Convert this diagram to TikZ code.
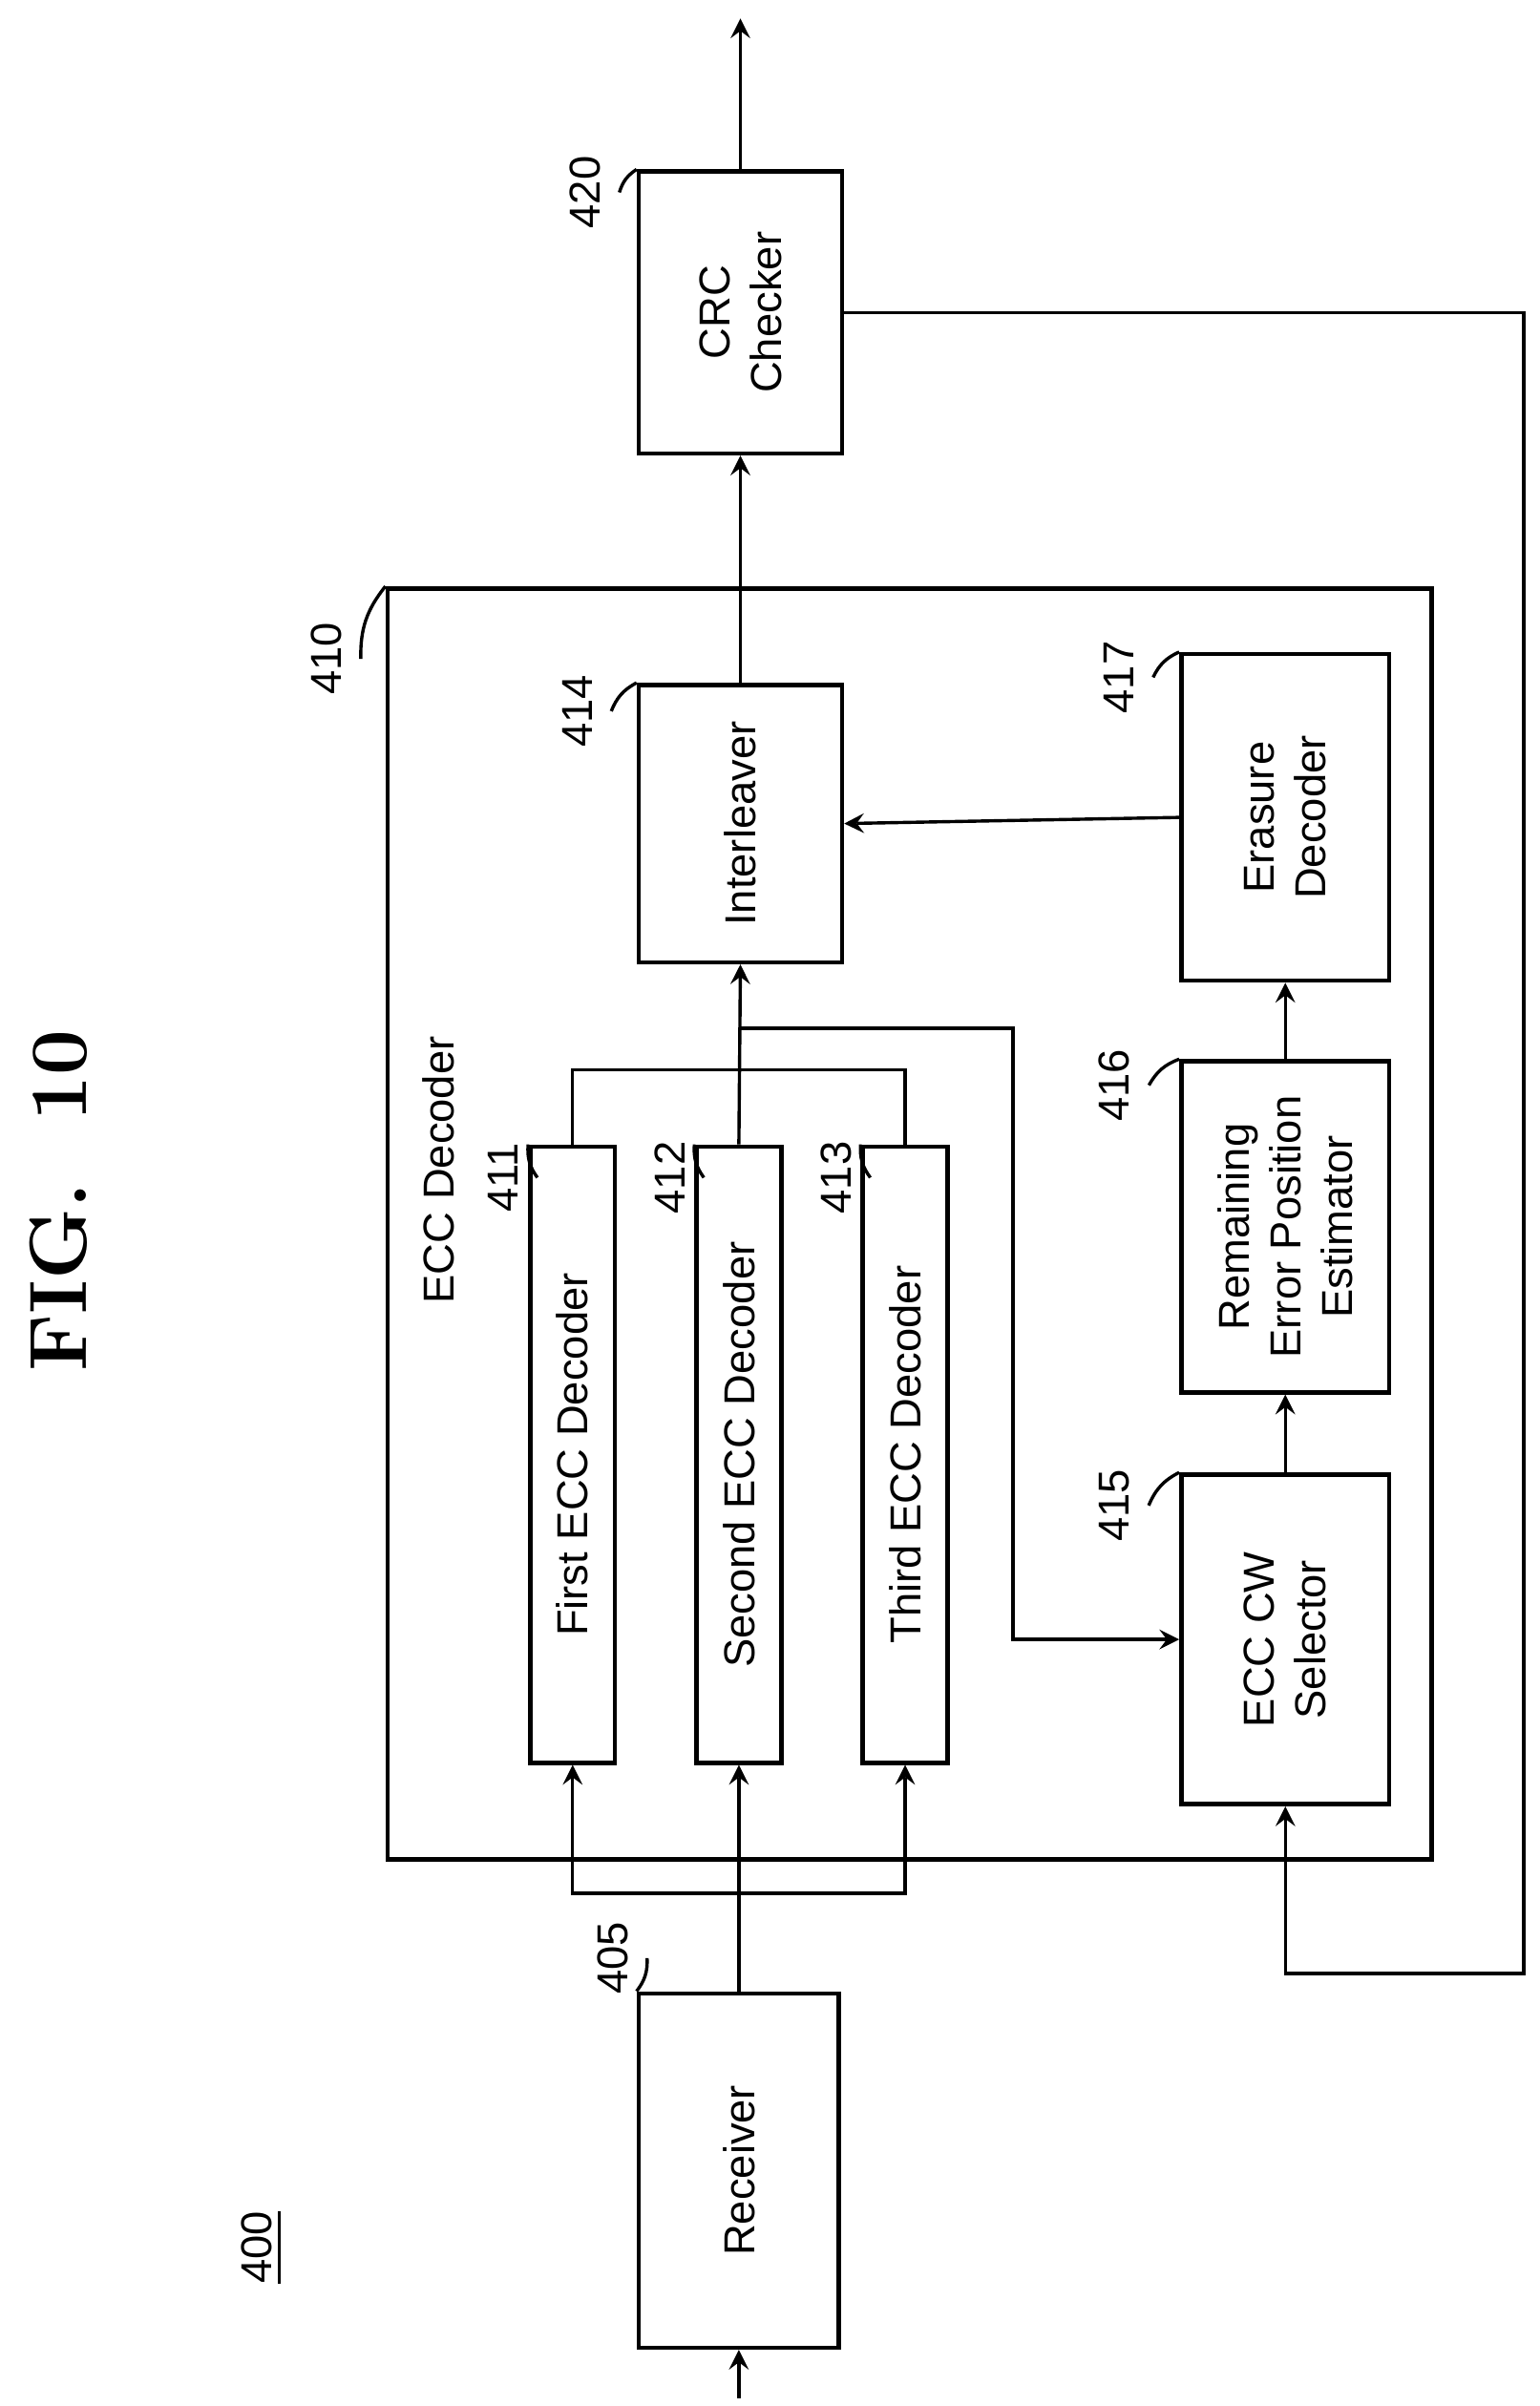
\documentclass[tikz,border=0pt]{standalone}
\usepackage{fontspec}
\setsansfont{Liberation Sans}
\usetikzlibrary{arrows}
\tikzstyle{block} = [rectangle, rotate=90, draw=black, line width=0.8pt, text centered, align=center, font=\sffamily\fontsize{8}{9.5}\selectfont]
\tikzstyle{tag} = [rotate=90, font=\sffamily\fontsize{8}{9.5}\selectfont]
\tikzstyle{arrow} = [line width=0.6pt,->,>=stealth]
\tikzstyle{wire} = [line width=0.6pt]
\begin{document}
\begin{tikzpicture}[x=0.01cm, y=-0.01cm]
        \useasboundingbox (0,0) rectangle (1000,1563);
        \node (title) [rotate=90, font=\bfseries\fontsize{15}{18}\selectfont] at (38,780) {FIG.~~10};
        \node (fig) [tag] at (170,1460) {\underline{400}};
        \node (dec) [block, minimum width=8.25cm, minimum height=6.78cm] at (591,795) {};
        \node (decname) [tag] at (285,760) {ECC Decoder};
        \node (rcv) [block, minimum width=2.3cm, minimum height=1.3cm] at (480,1410) {Receiver};
        \node (d1) [block, minimum width=4cm, minimum height=0.55cm] at (372,945) {First ECC Decoder};
        \node (d2) [block, minimum width=4cm, minimum height=0.55cm] at (480,945) {Second ECC Decoder};
        \node (d3) [block, minimum width=4cm, minimum height=0.55cm] at (588,945) {Third ECC Decoder};
        \node (il) [block, minimum width=1.8cm, minimum height=1.32cm] at (481,535) {Interleaver};
        \node (crc) [block, minimum width=1.83cm, minimum height=1.32cm] at (481,203) {CRC\\Checker};
        \node (er) [block, minimum width=2.12cm, minimum height=1.35cm] at (835,531) {Erasure\\Decoder};
        \node (est) [block, minimum width=2.15cm, minimum height=1.35cm] at (835,797) {Remaining\\Error Position\\Estimator};
        \node (sel) [block, minimum width=2.14cm, minimum height=1.35cm] at (835,1065) {ECC CW\\Selector};
        % reference numerals
        \node (n405) [tag] at (398,1272) {405};
        \node (n410) [tag] at (212,428) {410};
        \node (n411) [tag] at (327,765) {411};
        \node (n412) [tag] at (435,765) {412};
        \node (n413) [tag] at (543,765) {413};
        \node (n414) [tag] at (375,462) {414};
        \node (n415) [tag] at (724,978) {415};
        \node (n416) [tag] at (724,705) {416};
        \node (n417) [tag] at (727,440) {417};
        \node (n420) [tag] at (380,125) {420};
        \draw [wire] (n405.south) to[bend left=20] (rcv.north east);
        \draw [wire] (n410.south) to[bend left=20] (dec.north east);
        \draw [wire] (n411.south) to[bend left=20] (d1.north east);
        \draw [wire] (n412.south) to[bend left=20] (d2.north east);
        \draw [wire] (n413.south) to[bend left=20] (d3.north east);
        \draw [wire] (n414.south) to[bend left=20] (il.north east);
        \draw [wire] (n415.south) to[bend left=20] (sel.north east);
        \draw [wire] (n416.south) to[bend left=20] (est.north east);
        \draw [wire] (n417.south) to[bend left=20] (er.north east);
        \draw [wire] (n420.south) to[bend left=20] (crc.north east);
        % connections
        \coordinate (in) at (480,1558);
        \coordinate (split) at (480,1230);
        \coordinate (join) at (480,695);
        \coordinate (tap) at (480,668);
        \coordinate (bend) at (658,1065);
        \coordinate (fb) at (990,1282);
        \coordinate (out) at (481,12);
        \draw [arrow] (in) -- (rcv.west);
        \draw [wire] (rcv.east) -- (split);
        \draw [arrow] (split) -| (d1.west);
        \draw [arrow] (split) -| (d3.west);
        \draw [arrow] (split) -- (d2.west);
        \draw [wire] (d1.east) |- (join) -| (d3.east);
        \draw [arrow] (d2.east) -- (il.west);
        \draw [arrow] (tap) -| (bend) -- (sel.north);
        \draw [arrow] (il.east) -- (crc.west);
        \draw [arrow] (crc.east) -- (out);
        \draw [arrow] (crc.south) -| (fb) -| (sel.west);
        \draw [arrow] (er.north) -- (il.south);
        \draw [arrow] (est.east) -- (er.west);
        \draw [arrow] (sel.east) -- (est.west);
\end{tikzpicture}
\end{document}
